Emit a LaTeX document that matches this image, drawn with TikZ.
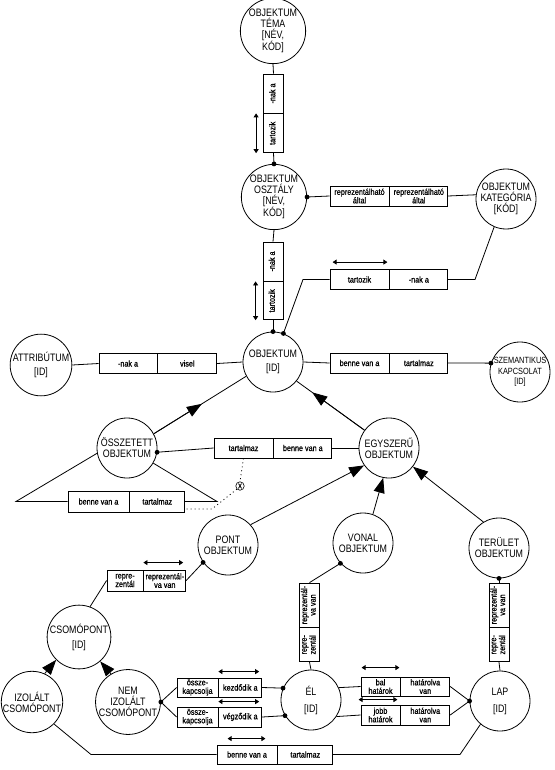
\documentclass[tikz,border=0pt]{standalone}
\usepackage{fontspec}
\usepackage{graphicx}
\setmainfont{Liberation Sans}
\newfontfamily\entfont[FakeStretch=0.82]{Liberation Sans}
\newfontfamily\relfont[FakeStretch=0.85,FakeBold=0.8]{Liberation Sans}
\usetikzlibrary{arrows.meta,positioning,calc}

\newcommand{\vlab}[1]{\rotatebox{90}{\begin{tabular}{@{}c@{}}#1\end{tabular}}}

\tikzset{
    ent/.style={circle, draw, line width=0.8pt, minimum size=60pt, inner sep=0pt,
        align=center, font=\entfont\fontsize{10.8}{11}\selectfont},
    cell/.style={rectangle, draw, line width=0.8pt, minimum height=20pt, inner sep=0pt,
        align=center, font=\relfont\fontsize{8.5}{8.5}\selectfont},
    vcell/.style={cell, minimum height=0pt, minimum width=20pt},
    conn/.style={line width=0.8pt},
    gen/.style={conn, -{Triangle[length=15pt,width=11pt]}},
    dbl/.style={conn, {Triangle[length=4pt,width=5pt]}-{Triangle[length=4pt,width=5pt]}},
    dots/.style={conn, dash pattern=on 1pt off 3pt},
}

\begin{document}
\begin{tikzpicture}[x=1pt,y=-1pt]
                \useasboundingbox (0,0) rectangle (554,770);

                % entitasok
                \node[ent] (tema) at (273,31) {OBJEKTUM\\TÉMA\\{[NÉV,}\\{KÓD]}};
                \node[ent] (osztaly) at (274,197) {OBJEKTUM\\OSZTÁLY\\{[NÉV,}\\{KÓD]}};
                \node[ent] (kategoria) at (506,199) {OBJEKTUM\\KATEGÓRIA\\{[KÓD]}};
                \node[ent] (objektum) at (273,362) {OBJEKTUM\\[3pt]{[ID]}};
                \node[ent, font=\entfont\fontsize{9}{10.5}\selectfont] (szemantikus) at (520,372) {SZEMANTIKUS\\KAPCSOLAT\\{[ID]}};
                \node[ent] (attributum) at (41,365) {ATTRIBÚTUM\\[3pt]{[ID]}};
                \node[ent] (osszetett) at (127,448) {ÖSSZETETT\\OBJEKTUM};
                \node[ent] (egyszeru) at (389,448) {EGYSZERŰ\\OBJEKTUM};
                \node[ent] (pont) at (228,545) {PONT\\OBJEKTUM};
                \node[ent] (vonal) at (363,543) {VONAL\\OBJEKTUM};
                \node[ent] (terulet) at (499,548) {TERÜLET\\OBJEKTUM};
                \node[ent] (csomopont) at (79,637) {CSOMÓPONT\\[4pt]{[ID]}};
                \node[ent] (izolalt) at (32,702) {IZOLÁLT\\CSOMÓPONT};
                \node[ent] (nemizolalt) at (128,702) {NEM\\IZOLÁLT\\CSOMÓPONT};
                \node[ent] (el) at (311,700) {ÉL\\[6pt]{[ID]}};
                \node[ent] (lap) at (500,701) {LAP\\[6pt]{[ID]}};

                % kapcsolat-dobozok
                \node[cell, minimum width=59pt] (r2a) at (359.5,196) {reprezentálható\\által};
                \node[cell, minimum width=58pt, right=0pt of r2a] (r2b) {reprezentálható\\által};
                \node[cell, minimum width=59pt] (r4a) at (359.5,279.5) {tartozik};
                \node[cell, minimum width=58pt, right=0pt of r4a] (r4b) {-nak a};
                \node[cell, minimum width=59pt] (r5a) at (359.5,363) {benne van a};
                \node[cell, minimum width=58pt, right=0pt of r5a] (r5b) {tartalmaz};
                \node[cell, minimum width=58pt] (r6a) at (128,363.5) {-nak a};
                \node[cell, minimum width=59pt, right=0pt of r6a] (r6b) {visel};
                \node[cell, minimum width=59pt] (r7a) at (243.5,448) {tartalmaz};
                \node[cell, minimum width=58pt, right=0pt of r7a] (r7b) {benne van a};
                \node[cell, minimum width=61pt, minimum height=21pt] (r8a) at (98.5,501.5) {benne van a};
                \node[cell, minimum width=55pt, minimum height=21pt, right=0pt of r8a] (r8b) {tartalmaz};
                \node[cell, minimum width=36pt, minimum height=21pt] (r9a) at (125,580.5) {repre-\\zentál};
                \node[cell, minimum width=42pt, minimum height=21pt, right=0pt of r9a] (r9b) {reprezentál-\\va van};
                \node[cell, minimum width=39pt, minimum height=19pt] (r12a) at (380.5,686.5) {bal\\határok};
                \node[cell, minimum width=49pt, minimum height=19pt, right=0pt of r12a] (r12b) {határolva\\van};
                \node[cell, minimum width=39pt] (r13a) at (380.5,715) {jobb\\határok};
                \node[cell, minimum width=49pt, right=0pt of r13a] (r13b) {határolva\\van};
                \node[cell, minimum width=41pt, minimum height=19pt] (r14a) at (197.5,687.5) {össze-\\kapcsolja};
                \node[cell, minimum width=43pt, minimum height=19pt, right=0pt of r14a] (r14b) {kezdődik a};
                \node[cell, minimum width=41pt] (r15a) at (197.5,717) {össze-\\kapcsolja};
                \node[cell, minimum width=43pt, right=0pt of r15a] (r15b) {végződik a};
                \node[cell, minimum width=60pt, minimum height=19pt] (r16a) at (247,754.5) {benne van a};
                \node[cell, minimum width=55pt, minimum height=19pt, right=0pt of r16a] (r16b) {tartalmaz};

                % fuggoleges dobozok
                \node[vcell, minimum height=39pt] (v1a) at (273.5,93.5) {\vlab{-nak a}};
                \node[vcell, minimum height=39pt, below=0pt of v1a] (v1b) {\vlab{tartozik}};
                \node[vcell, minimum height=39pt] (v3a) at (273,261.5) {\vlab{-nak a}};
                \node[vcell, minimum height=38pt, below=0pt of v3a] (v3b) {\vlab{tartozik}};
                \node[vcell, minimum height=44pt] (v10a) at (309.5,605) {\vlab{reprezentál-\\va van}};
                \node[vcell, minimum height=34pt, below=0pt of v10a] (v10b) {\vlab{repre-\\zentál}};
                \node[vcell, minimum height=44pt] (v11a) at (499,605) {\vlab{reprezentál-\\va van}};
                \node[vcell, minimum height=34pt, below=0pt of v11a] (v11b) {\vlab{repre-\\zentál}};

                \node[circle, draw, line width=0.6pt, inner sep=0.8pt,
                    font=\relfont\fontsize{7}{7}\selectfont] (xmark) at (240,486) {X};

                \coordinate (k1) at (303,279.5);
                \coordinate (k2) at (475,279.5);
                \coordinate (t1) at (16,501.5);
                \coordinate (t2) at (217,501.5);
                \coordinate (p1) at (212,509);
                \coordinate (b1) at (91,754.5);
                \coordinate (b2) at (460,754.5);

                % vonalak
                \draw[conn] (tema.south) -- (v1a.north);
                \draw[conn] (v1b.south) -- (osztaly.north);
                \draw[conn] (osztaly.east) -- (r2a.west);
                \draw[conn] (r2b.east) -- (kategoria.172);
                \draw[conn] (osztaly.south) -- (v3a.north);
                \draw[conn] (v3b.south) -- (objektum.north);
                \draw[conn] (objektum.70) -- (k1) -- (r4a.west);
                \draw[conn] (r4b.east) -- (k2) -- (kategoria.247);
                \draw[conn] (objektum.east) -- (r5a.west);
                \draw[conn] (r5b.east) -- (szemantikus.163);
                \draw[conn] (attributum.east) -- (r6a.west);
                \draw[conn] (r6b.east) -- (objektum.west);
                \draw[conn] (osszetett.-8) -- (r7a.west);
                \draw[conn] (r7b.east) -- (egyszeru.west);
                \draw[conn] (osszetett.190) -- (t1) -- (r8a.west);
                \draw[conn] (osszetett.-30) -- (t2) -- (r8b.east);
                \draw[dots] (r7a.south) -- (xmark.north);
                \draw[dots] (xmark.south west) -- (p1) -- (r8b.east |- p1);

                % altalanositas
                \draw[gen] (pont.42) -- (egyszeru.215);
                \draw[gen] (vonal.71) -- (egyszeru.259);
                \draw[gen] (terulet.121) -- (egyszeru.-38);
                \draw[conn] (osszetett.28) -- (objektum.208);
                \draw[gen] (osszetett.28) -- ($(osszetett.28)!0.52!(objektum.208)$);
                \draw[conn] (egyszeru.144) -- (objektum.-39);
                \draw[gen] (egyszeru.144) -- ($(egyszeru.144)!0.77!(objektum.-39)$);
                \draw[gen] (izolalt.66) -- (csomopont.225);
                \draw[gen] (nemizolalt.121) -- (csomopont.311);

                \draw[conn] (csomopont.70) -- (r9a.west);
                \draw[conn] (r9b.east) -- (pont.215);
                \draw[conn] (vonal.222) -- (v10a.north);
                \draw[conn] (v10b.south) -- (el.north);
                \draw[conn] (terulet.south) -- (v11a.north);
                \draw[conn] (v11b.south) -- (lap.north);
                \draw[conn] (el.24) -- (r12a.west);
                \draw[conn] (el.-33) -- (r13a.west);
                \draw[conn] (r12b.east) -- (lap.west);
                \draw[conn] (r13b.east) -- (lap.west);
                \draw[conn] (nemizolalt.east) -- (r14a.west);
                \draw[conn] (nemizolalt.east) -- (r15a.west);
                \draw[conn] (r14b.east) -- (el.157);
                \draw[conn] (r15b.east) -- (el.211);
                \draw[conn] (izolalt.-45) -- (b1) -- (r16a.west);
                \draw[conn] (r16b.east) -- (b2) -- (lap.230);

                % iranyok
                \draw[dbl] ([xshift=-7pt]v1b.north west) -- ([xshift=-7pt]v1b.south west);
                \draw[dbl] ([xshift=-7pt]v3b.north west) -- ([xshift=-7pt]v3b.south west);
                \draw[dbl] ([xshift=3pt,yshift=7pt]r4a.north west) -- ([xshift=-2pt,yshift=7pt]r4a.north east);
                \draw[dbl] ([yshift=7pt]r9b.north west) -- ([xshift=-3pt,yshift=7pt]r9b.north east);
                \draw[dbl] ([xshift=1pt,yshift=9pt]r12a.north west) -- ([xshift=-1pt,yshift=9pt]r12a.north east);
                \draw[dbl] ([xshift=-2pt,yshift=5pt]r13a.north west) -- ([xshift=-3pt,yshift=5pt]r13a.north east);
                \draw[dbl] ([yshift=6pt]r14b.north west) -- ([xshift=-3pt,yshift=6pt]r14b.north east);
                \draw[dbl] ([yshift=5pt]r15b.north west) -- ([xshift=-3pt,yshift=5pt]r15b.north east);
                \draw[dbl] ([xshift=11pt,yshift=6pt]r16a.north west) -- ([xshift=-12pt,yshift=6pt]r16a.north east);

                % pontok
                \foreach \p in {osztaly.north, osztaly.east, objektum.north, objektum.70,
                    szemantikus.163, osszetett.-8, pont.215, vonal.222, terulet.south,
                    nemizolalt.east, el.157, el.211, lap.west}
                    \fill (\p) circle[radius=2.4pt];

\end{tikzpicture}
\end{document}
